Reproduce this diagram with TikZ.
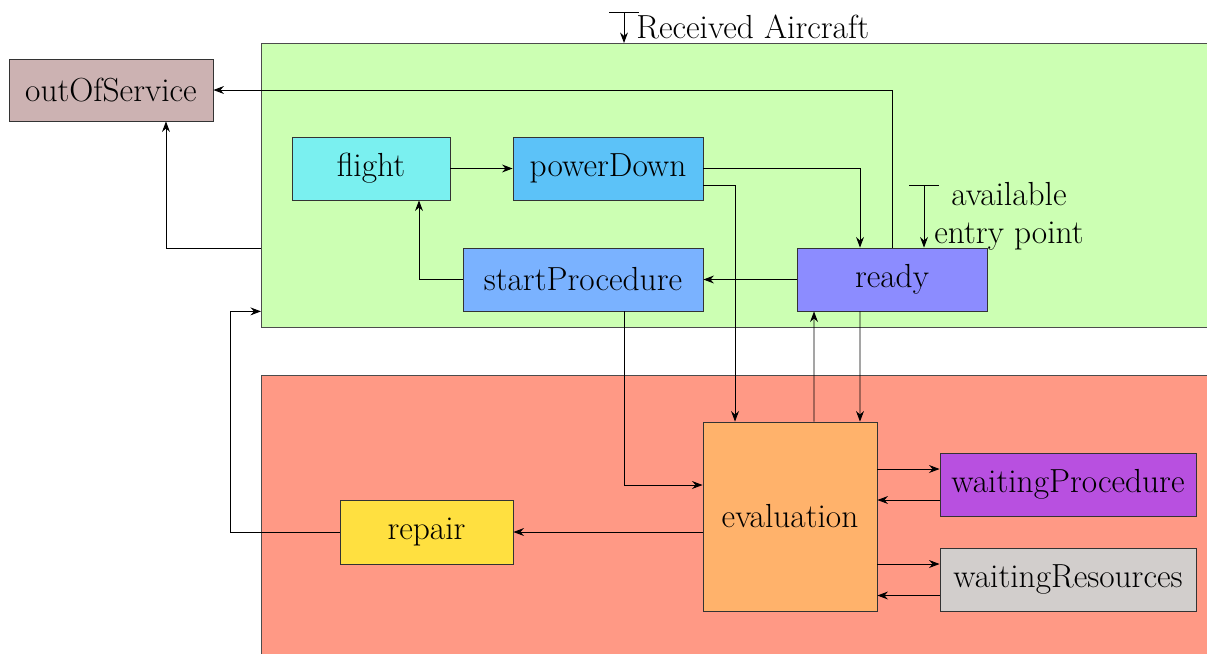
\documentclass[tikz,border=0pt]{standalone}
\usetikzlibrary{arrows.meta,calc}
\definecolor{cgreen}{RGB}{204,255,179}
\definecolor{cred}{RGB}{255,153,133}
\definecolor{cout}{RGB}{204,178,178}
\definecolor{cflight}{RGB}{122,240,240}
\definecolor{cpower}{RGB}{92,194,248}
\definecolor{cstart}{RGB}{122,178,255}
\definecolor{cready}{RGB}{140,140,255}
\definecolor{ceval}{RGB}{255,178,107}
\definecolor{crepair}{RGB}{255,224,64}
\definecolor{cwproc}{RGB}{184,80,224}
\definecolor{cwres}{RGB}{210,206,204}
\tikzset{
  region/.style={draw=black!70, line width=0.5pt, rectangle, inner sep=0pt, anchor=north west},
  box/.style={draw=black!80, line width=0.5pt, rectangle, inner sep=0pt, minimum height=1.26cm, font=\fontsize{19}{22}\selectfont},
  lbl/.style={inner sep=0pt, font=\fontsize{19}{22}\selectfont},
  arr/.style={-{Stealth[length=6pt,width=4.5pt,inset=2pt]}, line width=0.5pt},
  entry/.style={{Bar[width=0.6cm]}-{Stealth[length=6pt,width=4.5pt,inset=2pt]}, line width=0.5pt},
}
\begin{document}
\begin{tikzpicture}[x=0.02cm,y=-0.02cm]
\useasboundingbox (0,0) rectangle (1207,653);
% regions
\node[region, fill=cgreen, minimum width=19.3cm, minimum height=5.68cm] (green) at (261,43) {};
\node[region, fill=cred, minimum width=19.3cm, minimum height=6.2cm] (red) at (261,375) {};
% nodes
\node[box, fill=cout, minimum width=4.08cm, minimum height=1.24cm] (outOfService) at (111,90) {outOfService};
\node[box, fill=cflight, minimum width=3.16cm] (flight) at (371,168.5) {flight};
\node[box, fill=cpower, minimum width=3.8cm] (powerDown) at (608,168.5) {powerDown};
\node[box, fill=cstart, minimum width=4.8cm] (startProcedure) at (583,279.5) {startProcedure};
\node[box, fill=cready, minimum width=3.8cm] (ready) at (892,279.5) {ready};
\node[box, fill=ceval, minimum width=3.48cm, minimum height=3.78cm] (evaluation) at (790,516.5) {evaluation};
\node[box, fill=crepair, minimum width=3.46cm, minimum height=1.28cm] (repair) at (426.5,532) {repair};
\node[box, fill=cwproc, minimum width=5.12cm] (waitingProcedure) at (1068,484.5) {waitingProcedure};
\node[box, fill=cwres, minimum width=5.12cm] (waitingResources) at (1068,579.5) {waitingResources};
% labels
\coordinate (ra) at (624,12);
\draw[entry] (ra) -- (ra |- green.north);
\node[lbl, anchor=west] (ralbl) at (636,27) {Received Aircraft};
\coordinate (ep) at (924,185);
\draw[entry] (ep) -- (ep |- ready.north);
\node[lbl] (avail) at (1009,194) {available};
\node[lbl] (entrypt) at (1009,236) {entry point};
% connectors
\draw[arr] (flight) -- (powerDown);
\draw[arr] (powerDown.east) -| ([xshift=-0.64cm]ready.north);
\draw[arr] (ready) -- (startProcedure);
\draw[arr] (startProcedure.west) -| ([xshift=0.96cm]flight.south);
\draw[arr] ([yshift=-0.33cm]powerDown.east) -| ([xshift=-1.1cm]evaluation.north);
\draw[arr] ([xshift=0.82cm]startProcedure.south) |- ([yshift=0.63cm]evaluation.west);
\draw[arr] ([xshift=-0.64cm]ready.south) -- ([xshift=1.4cm]evaluation.north);
\draw[arr] ([xshift=0.48cm]evaluation.north) -- ([xshift=-1.56cm]ready.south);
\draw[arr] (ready.north) |- (outOfService.east);
\draw[arr] ([yshift=-1.26cm]green.west) -| ([xshift=1.1cm]outOfService.south);
\draw[arr] (evaluation.west |- repair.east) -- (repair.east);
\coordinate (loop) at (230,532);
\draw[arr] (repair.west) -- (loop) |- ([yshift=-2.52cm]green.west);
\draw[arr] ([yshift=0.31cm]waitingProcedure.west -| evaluation.east) -- ([yshift=0.31cm]waitingProcedure.west);
\draw[arr] ([yshift=-0.31cm]waitingProcedure.west) -- ([yshift=-0.31cm]waitingProcedure.west -| evaluation.east);
\draw[arr] ([yshift=0.31cm]waitingResources.west -| evaluation.east) -- ([yshift=0.31cm]waitingResources.west);
\draw[arr] ([yshift=-0.32cm]waitingResources.west) -- ([yshift=-0.32cm]waitingResources.west -| evaluation.east);
\end{tikzpicture}
\end{document}
